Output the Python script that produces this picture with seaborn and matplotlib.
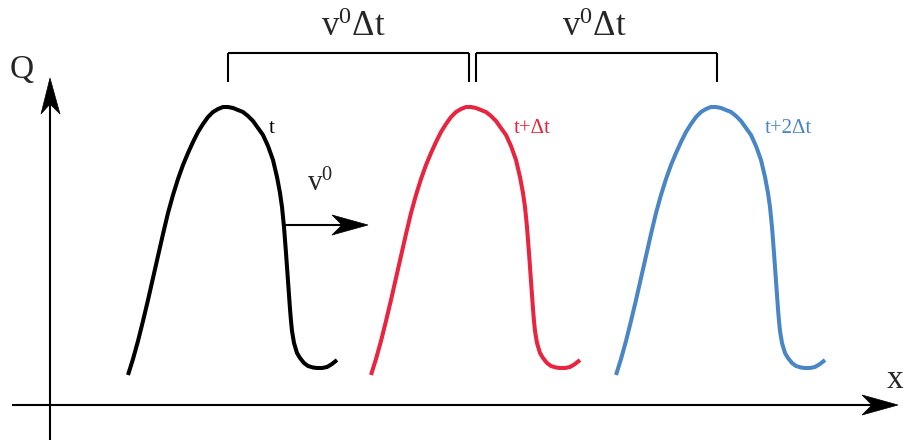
import numpy as np
import pandas as pd
import matplotlib
matplotlib.use("Agg")
import matplotlib.pyplot as plt
from matplotlib.patches import Polygon
import seaborn as sns

# Pulse profile: horizontal offset from the crest and height Q above the x axis
pulse_dx = [-100, -95, -90, -85, -80, -75, -70, -65, -60, -55, -50, -45, -40, -35, -30,
            -25, -20, -15, -10, -5, 0, 5, 10, 15, 20, 25, 30, 35, 40, 45, 49, 52, 54, 56,
            57, 58, 59, 60, 61, 62, 63, 64, 66, 69, 72, 76, 80, 85, 89, 94, 99, 104, 109]
pulse_q = [30, 46, 64, 84, 105, 127, 149, 171, 192, 210, 226, 240, 252, 263, 273,
           281, 288, 293, 296, 298, 298, 297, 295, 293, 289, 284, 277, 270, 259, 245, 228, 212, 198, 178,
           165, 152, 138, 124, 110, 96, 84, 74, 62, 52, 47, 42, 39, 37.5, 37, 37, 38, 41, 45]

# Crest position of the pulse at each time step
crest_x = [178, 421, 666]
time_labels = ["t", "t+Δt", "t+2Δt"]
colors = ["#000000", "#e8243f", "#4a86c5"]

frames = []
for cx, lab in zip(crest_x, time_labels):
    frames.append(pd.DataFrame({"x": np.array(pulse_dx) + cx,
                                "Q": pulse_q,
                                "time": lab}))
df = pd.concat(frames, ignore_index=True)

sns.set_theme(style="white")
plt.rcParams["font.family"] = ["Liberation Serif", "DejaVu Serif"]
plt.rcParams["mathtext.fontset"] = "custom"
plt.rcParams["mathtext.rm"] = "Liberation Serif"
plt.rcParams["mathtext.it"] = "Liberation Serif"

fig = plt.figure(figsize=(9.04, 4.43), dpi=100)
ax = fig.add_axes([0, 0, 1, 1])
ax.set_xlim(-50, 854)
ax.set_ylim(-38, 405)
ax.axis("off")

sns.lineplot(data=df, x="x", y="Q", hue="time", palette=dict(zip(time_labels, colors)),
             sort=False, estimator=None, linewidth=2.9, legend=False, ax=ax,
             solid_joinstyle="round", solid_capstyle="butt")


def P(px, py):
    """Convert a canvas position (pixels from top-left) to data coordinates."""
    return (px - 50, 405 - py)


def head(tip, back_a, back_b, notch):
    ax.add_patch(Polygon([P(*tip), P(*back_a), P(*notch), P(*back_b)],
                         closed=True, facecolor="black", edgecolor="black", lw=0.5))


def seg(p0, p1, lw=1.5):
    (x0, y0), (x1, y1) = P(*p0), P(*p1)
    ax.plot([x0, x1], [y0, y1], color="black", lw=lw, solid_capstyle="butt")


# Axes arrows
seg((50, 440), (50, 100))
head((50, 78), (41, 114), (60, 114), (50, 104))
seg((12, 405), (875, 405))
head((898, 405), (862, 395), (862, 415), (872, 405))

ax.text(*P(22, 70), "Q", fontsize=24, ha="center", va="center")
ax.text(*P(895, 380), "x", fontsize=24, ha="center", va="center")

# Velocity arrow
seg((284, 225), (350, 225))
head((368, 225), (332, 215), (332, 235), (342, 225))
ax.text(*P(307, 191), r"v$^{0}$", fontsize=21, ha="left", va="baseline")

# Time labels beside each pulse
label_pos = [(269, 133), (514, 133), (765, 133)]
for (lx, ly), lab, c in zip(label_pos, time_labels, colors):
    ax.text(*P(lx, ly), lab, fontsize=15, color=c, ha="left", va="baseline")

# Distance brackets between crests
for x0, x1, tx in [(228, 469, 353), (476, 717, 594)]:
    seg((x0, 82), (x0, 53))
    seg((x0, 53), (x1, 53))
    seg((x1, 53), (x1, 82))
    ax.text(*P(tx, 36), r"v$^{0}$Δt", fontsize=25, ha="center", va="baseline")

fig.savefig("out.png", dpi=100)
